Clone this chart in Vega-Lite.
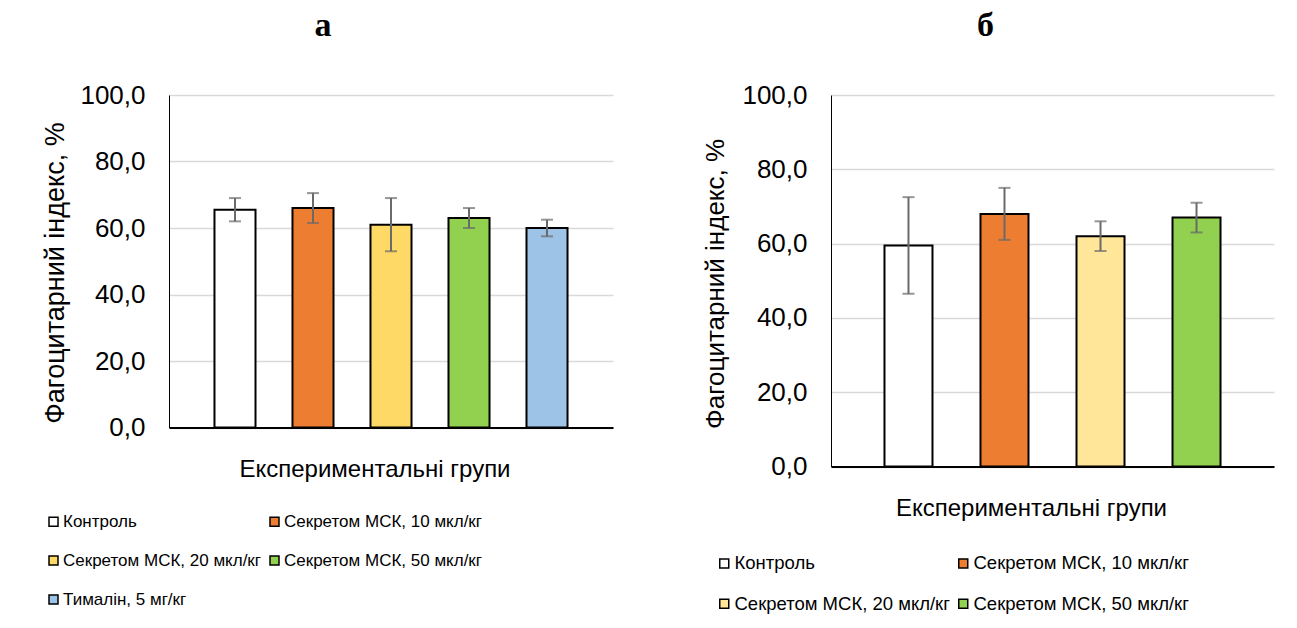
{
  "$schema": "https://vega.github.io/schema/vega-lite/v6.json",
  "background": "white",
  "autosize": {"type": "none"},
  "padding": {"left": 169, "top": 95, "right": 1128, "bottom": 533},
  "bounds": "flush",
  "spacing": 218,
  "config": {
    "font": "Liberation Sans",
    "view": {"stroke": null},
    "axis": {"labelColor": "#000000", "titleColor": "#000000", "titleFontWeight": "normal"},
    "title": {"font": "Liberation Serif", "fontWeight": "bold", "color": "#000000"}
  },
  "datasets": {
    "panelA": [
      {"group": "Контроль", "value": 65.5, "lo": 62.0, "hi": 69.0},
      {"group": "Секретом МСК, 10 мкл/кг", "value": 66.0, "lo": 61.5, "hi": 70.5},
      {"group": "Секретом МСК, 20 мкл/кг", "value": 61.0, "lo": 53.0, "hi": 69.0},
      {"group": "Секретом МСК, 50 мкл/кг", "value": 63.0, "lo": 60.0, "hi": 66.0},
      {"group": "Тималін, 5 мг/кг", "value": 60.0, "lo": 57.5, "hi": 62.5}
    ],
    "panelB": [
      {"group": "Контроль", "value": 59.5, "lo": 46.5, "hi": 72.5},
      {"group": "Секретом МСК, 10 мкл/кг", "value": 68.0, "lo": 61.0, "hi": 75.0},
      {"group": "Секретом МСК, 20 мкл/кг", "value": 62.0, "lo": 58.0, "hi": 66.0},
      {"group": "Секретом МСК, 50 мкл/кг", "value": 67.0, "lo": 63.0, "hi": 71.0}
    ]
  },
  "resolve": {
    "scale": {"x": "independent", "y": "independent", "color": "independent"},
    "legend": {"color": "independent"}
  },
  "hconcat": [
    {
      "width": 444,
      "height": 332.5,
      "title": {"text": "а", "fontSize": 34, "baseline": "alphabetic", "offset": 12, "frame": "group", "anchor": "middle", "dx": -68},
      "data": {"name": "panelA"},
      "encoding": {
        "x": {
          "field": "group", "type": "nominal", "sort": null,
          "scale": {
            "domain": ["Контроль", "Секретом МСК, 10 мкл/кг", "Секретом МСК, 20 мкл/кг", "Секретом МСК, 50 мкл/кг", "Тималін, 5 мг/кг"],
            "paddingInner": 0.474, "paddingOuter": 0.583
          },
          "axis": {
            "title": "Експериментальні групи", "titleFontSize": 24, "titlePadding": 30, "titleX": 205.5,
            "labels": false, "ticks": false, "domainColor": "#000000", "domainWidth": 2
          }
        }
      },
      "layer": [
        {
          "mark": {"type": "bar", "stroke": "#000000", "strokeWidth": 2},
          "encoding": {
            "y": {
              "field": "value", "type": "quantitative",
              "scale": {"domain": [0, 100], "nice": false},
              "axis": {
                "title": "Фагоцитарний індекс, %", "titleFontSize": 27, "titlePadding": 10,
                "titleY": 177.5,
                "values": [0, 20, 40, 60, 80, 100],
                "labelExpr": "replace(format(datum.value, '.1f'), '.', ',')",
                "labelFontSize": 26, "labelPadding": 24, "ticks": false,
                "domainColor": "#000000", "domainWidth": 1,
                "gridColor": "#d9d9d9", "gridWidth": 1.5
              }
            },
            "color": {
              "field": "group", "type": "nominal",
              "scale": {
                "domain": ["Контроль", "Секретом МСК, 10 мкл/кг", "Секретом МСК, 20 мкл/кг", "Секретом МСК, 50 мкл/кг", "Тималін, 5 мг/кг"],
                "range": ["#ffffff", "#ed7d31", "#ffd966", "#92d050", "#9dc3e6"]
              },
              "legend": {
                "title": null, "orient": "none", "legendX": -124, "legendY": 418,
                "direction": "horizontal", "columns": 2, "gridAlign": "each",
                "symbolType": "square", "symbolSize": 81, "symbolStrokeColor": "#000000", "symbolStrokeWidth": 1.5,
                "labelFontSize": 17, "labelColor": "#000000", "labelOffset": 1, "labelLimit": 400,
                "rowPadding": 21, "columnPadding": 5
              }
            }
          }
        },
        {
          "mark": {"type": "rule", "color": "#6a6a6a", "strokeWidth": 2},
          "encoding": {"y": {"field": "lo", "type": "quantitative"}, "y2": {"field": "hi"}}
        },
        {
          "mark": {"type": "tick", "color": "#6a6a6a", "size": 12, "thickness": 2},
          "encoding": {"y": {"field": "lo", "type": "quantitative"}}
        },
        {
          "mark": {"type": "tick", "color": "#6a6a6a", "size": 12, "thickness": 2},
          "encoding": {"y": {"field": "hi", "type": "quantitative"}}
        }
      ]
    },
    {
      "width": 443,
      "height": 371.5,
      "title": {"text": "б", "fontSize": 34, "baseline": "alphabetic", "offset": 12, "frame": "group", "anchor": "middle", "dx": -67},
      "data": {"name": "panelB"},
      "encoding": {
        "x": {
          "field": "group", "type": "nominal", "sort": null,
          "scale": {
            "domain": ["Контроль", "Секретом МСК, 10 мкл/кг", "Секретом МСК, 20 мкл/кг", "Секретом МСК, 50 мкл/кг"],
            "paddingInner": 0.5, "paddingOuter": 0.557
          },
          "axis": {
            "title": "Експериментальні групи", "titleFontSize": 24, "titlePadding": 30, "titleX": 200,
            "labels": false, "ticks": false, "domainColor": "#000000", "domainWidth": 2
          }
        }
      },
      "layer": [
        {
          "mark": {"type": "bar", "stroke": "#000000", "strokeWidth": 2},
          "encoding": {
            "y": {
              "field": "value", "type": "quantitative",
              "scale": {"domain": [0, 100], "nice": false},
              "axis": {
                "title": "Фагоцитарний індекс, %", "titleFontSize": 26, "titlePadding": 13,
                "titleY": 188.5,
                "values": [0, 20, 40, 60, 80, 100],
                "labelExpr": "replace(format(datum.value, '.1f'), '.', ',')",
                "labelFontSize": 26, "labelPadding": 24, "ticks": false,
                "domainColor": "#000000", "domainWidth": 1,
                "gridColor": "#d9d9d9", "gridWidth": 1.5
              }
            },
            "color": {
              "field": "group", "type": "nominal",
              "scale": {
                "domain": ["Контроль", "Секретом МСК, 10 мкл/кг", "Секретом МСК, 20 мкл/кг", "Секретом МСК, 50 мкл/кг"],
                "range": ["#ffffff", "#ed7d31", "#ffe699", "#92d050"]
              },
              "legend": {
                "title": null, "orient": "none", "legendX": -116, "legendY": 459,
                "direction": "horizontal", "columns": 2, "gridAlign": "each",
                "symbolType": "square", "symbolSize": 81, "symbolStrokeColor": "#000000", "symbolStrokeWidth": 1.5,
                "labelFontSize": 18.5, "labelColor": "#000000", "labelOffset": 1, "labelLimit": 400,
                "rowPadding": 21.5, "columnPadding": 4
              }
            }
          }
        },
        {
          "mark": {"type": "rule", "color": "#6a6a6a", "strokeWidth": 2},
          "encoding": {"y": {"field": "lo", "type": "quantitative"}, "y2": {"field": "hi"}}
        },
        {
          "mark": {"type": "tick", "color": "#6a6a6a", "size": 12, "thickness": 2},
          "encoding": {"y": {"field": "lo", "type": "quantitative"}}
        },
        {
          "mark": {"type": "tick", "color": "#6a6a6a", "size": 12, "thickness": 2},
          "encoding": {"y": {"field": "hi", "type": "quantitative"}}
        }
      ]
    }
  ]
}
